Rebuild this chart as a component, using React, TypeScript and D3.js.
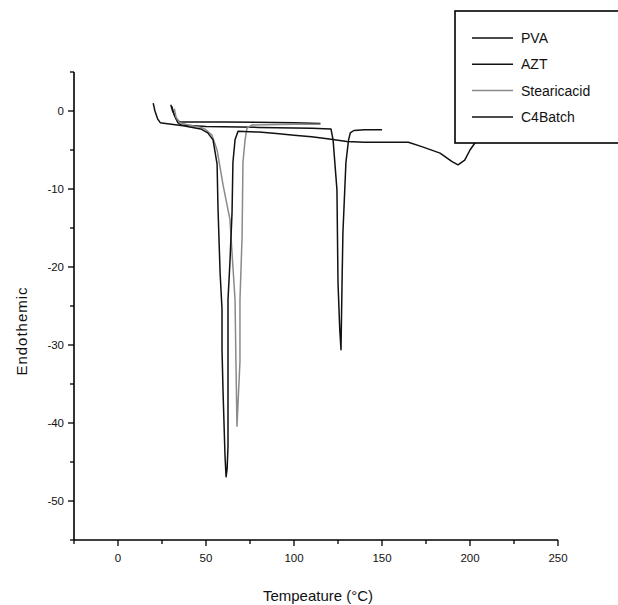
import React from "react";
import * as d3 from "d3";

type Pt = [number, number];

const seriesNames = ["PVA", "AZT", "Stearicacid", "C4Batch"];
const seriesColors = ["#111", "#111", "#8a8a8a", "#111"];

const pva: Pt[] = [
  [30, 0.8], [31, 0], [33, -1.0], [35, -1.4], [60, -1.4], [100, -1.5], [115, -1.6],
];

const azt: Pt[] = [
  [30.5, 0.6], [32, -0.5], [34, -1.5], [36, -1.8], [50, -2.0], [80, -2.1], [110, -2.2],
  [121, -2.3], [122.2, -3.7], [124.4, -10.1], [125, -22], [126, -28], [126.7, -30.6],
  [127.3, -22], [127.8, -15.6], [129.5, -6.6], [131, -3.7], [132, -2.8], [134, -2.5],
  [140, -2.4], [150, -2.4],
];

const stearic: Pt[] = [
  [32, 0.3], [33, -0.8], [35, -1.5], [40, -1.8], [47, -2.1], [49.4, -2.3], [53.4, -3.1],
  [56.3, -5.0], [59.7, -9.5], [63.6, -13.9], [64.8, -18.2], [66.5, -24.2], [67, -32.1],
  [67.6, -40.4], [68.5, -36], [69.3, -32.1], [69.3, -24.2], [70.5, -16.1], [71, -6.6],
  [72.2, -3.7], [73.3, -2.2], [76, -1.8], [100, -1.7], [115, -1.7],
];

const c4batch: Pt[] = [
  [20, 1.0], [21, 0], [22.5, -1.0], [24, -1.5], [27, -1.6], [37, -1.9], [47, -2.3],
  [51, -2.8], [54, -3.7], [56.3, -6.8], [56.8, -12.3], [58, -20.7], [59.1, -25.4],
  [59.1, -30.6], [59.7, -36.1], [60.8, -44.2], [61.4, -46.9], [62, -45.9], [62.5, -43],
  [62.5, -24.2], [63.6, -19.4], [64.8, -13], [65.3, -6.6], [66.5, -3.7], [68.2, -2.6],
  [80, -2.7], [90, -2.9], [100, -3.1], [110, -3.3], [120, -3.6], [130, -3.9], [140, -4.0],
  [165, -4.0], [173, -4.6], [183, -5.4], [189.8, -6.5], [193.2, -6.9], [197, -6.3],
  [200, -5.0], [202.8, -4.1], [205, -3.7],
];

const allSeries = [pva, azt, stearic, c4batch];

const xMajor = [0, 50, 100, 150, 200, 250];
const xMinor = [-25, 25, 75, 125, 175, 225];
const yMajor = [0, -10, -20, -30, -40, -50];
const yMinor = [5, -5, -15, -25, -35, -45, -55];

export default function App() {
  const W = 618, H = 605;
  const x = d3.scaleLinear().domain([-25, 250]).range([74, 558]);
  const y = d3.scaleLinear().domain([5, -55]).range([72, 540]);
  const line = d3.line<Pt>().x((d) => x(d[0])).y((d) => y(d[1]));
  const font = "'Liberation Sans', Arial, sans-serif";

  return (
    <svg width={W} height={H} style={{ position: "absolute", left: 0, top: 0 }} fontFamily={font}>
      <rect width={W} height={H} fill="#fff" />
      {allSeries.map((s, i) => (
        <path key={i} d={line(s) || ""} fill="none" stroke={seriesColors[i]} strokeWidth={1.5} strokeLinejoin="round" />
      ))}
      <line x1={x(-25)} x2={x(-25)} y1={y(5)} y2={y(-55)} stroke="#000" strokeWidth={1.6} />
      <line x1={x(-25)} x2={x(250)} y1={y(-55)} y2={y(-55)} stroke="#000" strokeWidth={1.6} />
      {yMajor.map((v) => (
        <g key={"ym" + v}>
          <line x1={x(-25) - 6} x2={x(-25)} y1={y(v)} y2={y(v)} stroke="#000" strokeWidth={1.3} />
          <text x={x(-25) - 10} y={y(v) + 4} fontSize={11.5} textAnchor="end" fill="#111">{v}</text>
        </g>
      ))}
      {yMinor.map((v) => (
        <line key={"yn" + v} x1={x(-25) - 4} x2={x(-25)} y1={y(v)} y2={y(v)} stroke="#000" strokeWidth={1.3} />
      ))}
      {xMajor.map((v) => (
        <g key={"xm" + v}>
          <line x1={x(v)} x2={x(v)} y1={y(-55)} y2={y(-55) + 6} stroke="#000" strokeWidth={1.3} />
          <text x={x(v)} y={y(-55) + 22} fontSize={11.5} textAnchor="middle" fill="#111">{v}</text>
        </g>
      ))}
      {xMinor.map((v) => (
        <line key={"xn" + v} x1={x(v)} x2={x(v)} y1={y(-55)} y2={y(-55) + 4} stroke="#000" strokeWidth={1.3} />
      ))}
      <text x={318} y={601} fontSize={15} textAnchor="middle" fill="#111">Tempeature (°C)</text>
      <text transform="translate(27,331) rotate(-90)" fontSize={15} letterSpacing={1} textAnchor="middle" fill="#111">Endothemic</text>
      <rect x={455} y={11} width={180} height={132} fill="#fff" stroke="#000" strokeWidth={1.6} />
      {seriesNames.map((n, i) => (
        <g key={n}>
          <line x1={472} x2={513} y1={38 + i * 26.3} y2={38 + i * 26.3} stroke={seriesColors[i]} strokeWidth={1.5} />
          <text x={521} y={43 + i * 26.3} fontSize={14} fill="#111">{n}</text>
        </g>
      ))}
    </svg>
  );
}
